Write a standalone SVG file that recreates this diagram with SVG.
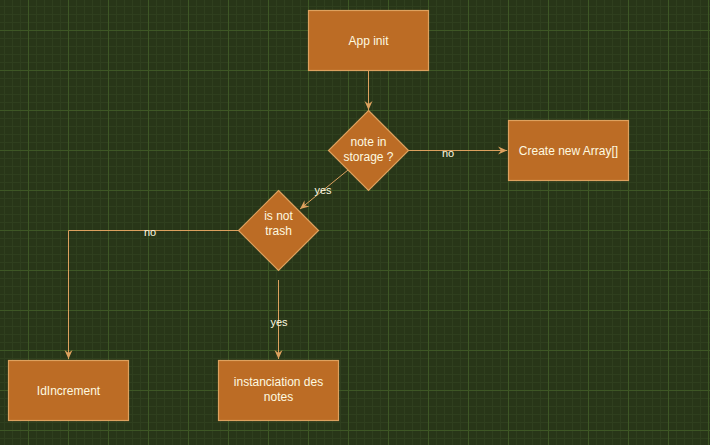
<svg xmlns="http://www.w3.org/2000/svg" width="710" height="445" viewBox="0 0 710 445">
<defs>
<pattern id="minor" width="8" height="8" patternUnits="userSpaceOnUse" x="4" y="6">
<path d="M0 0.5H8M0.5 0V8" fill="none" stroke="#2f3f1e" stroke-width="1"/>
</pattern>
<pattern id="major" width="40" height="40" patternUnits="userSpaceOnUse" x="28" y="30">
<path d="M0 0.5H40M0.5 0V40" fill="none" stroke="#3e5725" stroke-width="1"/>
</pattern>
<marker id="arr" markerWidth="10" markerHeight="10" refX="9" refY="5" orient="auto" markerUnits="userSpaceOnUse">
<path d="M0,1 L9,5 L0,9 L3,5 Z" fill="#DDA15E"/>
</marker>
<style>
.node{fill:#BC6C25;stroke:#DDA15E;stroke-width:1.2}
.t{font-family:"Liberation Sans",Arial,sans-serif;font-size:12px;fill:#FEFAE0;text-anchor:middle}
.lbl{font-family:"Liberation Sans",Arial,sans-serif;font-size:11px;fill:#FEFAE0;text-anchor:middle}
.edge{fill:none;stroke:#DDA15E;stroke-width:1;marker-end:url(#arr)}
</style>
</defs>
<rect width="710" height="445" fill="#283618"/>
<rect width="710" height="445" fill="url(#minor)"/>
<rect width="710" height="445" fill="url(#major)"/>
<g id="connectors">
<path class="edge" d="M368.5 70V110"/>
<path class="edge" d="M408 150.5H507"/>
<path class="edge" d="M348 170L300 209"/>
<path class="edge" d="M238 230.5H68.5V359"/>
<path class="edge" d="M278.5 280V359"/>
<text class="lbl" x="448" y="157">no</text>
<text class="lbl" x="323" y="194">yes</text>
<text class="lbl" x="150" y="236">no</text>
<text class="lbl" x="279" y="326">yes</text>
</g>
<g id="app-init">
<rect class="node" x="308.5" y="10.5" width="120" height="60"/>
<text class="t" x="368.5" y="45">App init</text>
</g>
<g id="note-in-storage">
<path class="node" d="M368.5 110.5L408.5 150.5L368.5 190.5L328.5 150.5Z"/>
<text class="t" x="368.5" y="146">note in</text>
<text class="t" x="368.5" y="161">storage ?</text>
</g>
<g id="create-new-array">
<rect class="node" x="508.5" y="120.5" width="120" height="60"/>
<text class="t" x="568.5" y="155">Create new Array[]</text>
</g>
<g id="is-not-trash">
<path class="node" d="M278.5 190.5L318.5 230.5L278.5 270.5L238.5 230.5Z"/>
<text class="t" x="278.5" y="220">is not</text>
<text class="t" x="278.5" y="235">trash</text>
</g>
<g id="idincrement">
<rect class="node" x="8.5" y="360.5" width="120" height="60"/>
<text class="t" x="68.5" y="395">IdIncrement</text>
</g>
<g id="instanciation">
<rect class="node" x="218.5" y="360.5" width="120" height="60"/>
<text class="t" x="278.5" y="386">instanciation des</text>
<text class="t" x="278.5" y="401">notes</text>
</g>
</svg>
